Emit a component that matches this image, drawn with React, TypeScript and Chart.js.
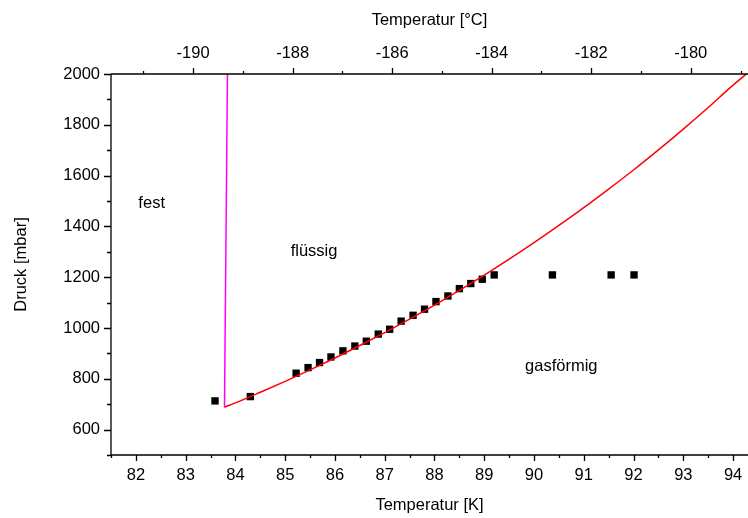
import { useEffect, useRef } from 'react';
import { Chart, registerables } from 'chart.js';

Chart.register(...registerables);

// Measured points (Temperatur [K], Druck [mbar])
const measuredT = [83.59, 84.30, 85.22, 85.46, 85.69, 85.92, 86.16, 86.40, 86.63, 86.87, 87.10, 87.33, 87.57, 87.80, 88.03, 88.27, 88.50, 88.73, 88.96, 89.20, 90.37, 91.55, 92.01];
const measuredP = [713, 730, 822, 844, 864, 886, 910, 929, 948, 976, 995, 1027, 1050, 1074, 1104, 1126, 1155, 1175, 1192, 1209, 1209, 1209, 1209];

// Vapour pressure curve (red)
const curveT = [83.78, 84.0, 84.5, 85.0, 85.5, 86.0, 86.5, 87.0, 87.5, 88.0, 88.5, 89.0, 89.5, 90.0, 90.5, 91.0, 91.5, 92.0, 92.5, 93.0, 93.5, 94.0, 94.27];
const curveP = [688, 705, 747, 790, 835, 882, 931, 982, 1035, 1090, 1148, 1208, 1271, 1336, 1404, 1474, 1547, 1622, 1701, 1783, 1868, 1956, 2000];

// Melting curve (magenta)
const meltT = [83.78, 83.84];
const meltP = [688, 2000];

// Region labels
const regionText = ['fest', 'flüssig', 'gasförmig'];
const regionT = [82.05, 85.11, 89.82];
const regionP = [1490, 1301, 847];

const K_MIN = 81.5;
const K_MAX = 94.3;
const P_MIN = 500;
const P_MAX = 2000;
const C_OFFSET = 273.15;

const FONT_FAMILY = '"Liberation Sans", Arial, sans-serif';
const FONT_SIZE = 16.5;

const axesPlugin = {
  id: 'originAxes',
  afterDraw(chart: any) {
    const { ctx, chartArea: a, scales } = chart;
    const x = scales.x;
    const y = scales.y;
    const x2 = scales.x2;
    ctx.save();
    ctx.strokeStyle = '#000';
    ctx.lineWidth = 1.3;
    ctx.beginPath();
    ctx.moveTo(a.left, a.bottom);
    ctx.lineTo(a.right, a.bottom);
    ctx.moveTo(a.left, a.top);
    ctx.lineTo(a.right, a.top);
    ctx.moveTo(a.left, a.top);
    ctx.lineTo(a.left, a.bottom);
    // bottom ticks
    for (let i = 0; ; i++) {
      const v = K_MIN + i * 0.5;
      if (v > K_MAX + 1e-9) break;
      const major = Math.abs(v - Math.round(v)) < 1e-6;
      const px = Math.round(x.getPixelForValue(v)) + 0.5;
      ctx.moveTo(px, a.bottom);
      ctx.lineTo(px, a.bottom + (major ? 6 : 3));
    }
    // left ticks
    for (let v = P_MIN; v <= P_MAX; v += 100) {
      const major = v % 200 === 0;
      const py = Math.round(y.getPixelForValue(v)) + 0.5;
      ctx.moveTo(a.left, py);
      ctx.lineTo(a.left - (major ? 7 : 4), py);
    }
    // top ticks
    const cMin = K_MIN - C_OFFSET;
    const cMax = K_MAX - C_OFFSET;
    for (let v = Math.ceil(cMin); v <= cMax; v += 1) {
      const major = Math.abs(v) % 2 === 0;
      const px = Math.round(x2.getPixelForValue(v)) + 0.5;
      ctx.moveTo(px, a.top);
      ctx.lineTo(px, a.top - (major ? 6 : 3));
    }
    ctx.stroke();

    // region labels
    ctx.fillStyle = '#000';
    ctx.font = `${FONT_SIZE}px ${FONT_FAMILY}`;
    ctx.textAlign = 'left';
    ctx.textBaseline = 'middle';
    regionText.forEach((t, i) => {
      ctx.fillText(t, x.getPixelForValue(regionT[i]), y.getPixelForValue(regionP[i]));
    });
    ctx.restore();
  },
};

export default function App() {
  const ref = useRef<HTMLCanvasElement | null>(null);

  useEffect(() => {
    if (!ref.current) return;
    const font = { family: FONT_FAMILY, size: FONT_SIZE };
    const chart = new Chart(ref.current, {
      type: 'scatter',
      data: {
        datasets: [
          {
            label: 'Dampfdruckkurve',
            data: curveT.map((t, i) => ({ x: t, y: curveP[i] })),
            showLine: true,
            borderColor: '#ff0000',
            borderWidth: 1.5,
            pointRadius: 0,
            cubicInterpolationMode: 'monotone',
            xAxisID: 'x',
            yAxisID: 'y',
          },
          {
            label: 'Schmelzkurve',
            data: meltT.map((t, i) => ({ x: t, y: meltP[i] })),
            showLine: true,
            borderColor: '#ff00ff',
            borderWidth: 1.5,
            pointRadius: 0,
            xAxisID: 'x',
            yAxisID: 'y',
          },
          {
            label: 'Messwerte',
            data: measuredT.map((t, i) => ({ x: t, y: measuredP[i] })),
            showLine: false,
            pointStyle: 'rect',
            pointRadius: 5.2,
            pointBorderWidth: 0,
            backgroundColor: '#000',
            borderColor: '#000',
            xAxisID: 'x',
            yAxisID: 'y',
          },
        ],
      } as any,
      options: {
        animation: false,
        responsive: false,
        maintainAspectRatio: false,
        layout: { padding: 0, autoPadding: false },
        plugins: {
          legend: { display: false },
          tooltip: { enabled: false },
        },
        scales: {
          x: {
            type: 'linear',
            position: 'bottom',
            min: K_MIN,
            max: K_MAX,
            grid: { display: false, drawTicks: false },
            border: { display: false },
            ticks: {
              stepSize: 1,
              includeBounds: false,
              color: '#000',
              font,
              padding: 11,
              maxRotation: 0,
              autoSkip: false,
              callback: (v: any) => String(v),
            },
            title: {
              display: true,
              text: 'Temperatur [K]',
              color: '#000',
              font,
              padding: { top: 0, bottom: 3 },
            },
            afterFit: (s: any) => {
              s.height = 63;
              s.paddingLeft = 0;
              s.paddingRight = 0;
            },
          },
          x2: {
            type: 'linear',
            position: 'top',
            min: K_MIN - C_OFFSET,
            max: K_MAX - C_OFFSET,
            grid: { display: false, drawTicks: false },
            border: { display: false },
            ticks: {
              stepSize: 2,
              includeBounds: false,
              color: '#000',
              font,
              padding: 11,
              maxRotation: 0,
              autoSkip: false,
              callback: (v: any) => String(v),
            },
            title: {
              display: true,
              text: 'Temperatur [°C]',
              color: '#000',
              font,
              padding: { top: 11, bottom: 0 },
            },
            afterFit: (s: any) => {
              s.height = 74;
              s.paddingLeft = 0;
              s.paddingRight = 0;
            },
          },
          y: {
            type: 'linear',
            position: 'left',
            min: P_MIN,
            max: P_MAX,
            grid: { display: false, drawTicks: false },
            border: { display: false },
            ticks: {
              stepSize: 200,
              includeBounds: false,
              color: '#000',
              font,
              padding: 11,
              autoSkip: false,
              callback: (v: any) => String(v),
            },
            title: {
              display: true,
              text: 'Druck [mbar]',
              color: '#000',
              font,
              padding: { top: 12, bottom: 0 },
            },
            afterFit: (s: any) => {
              s.width = 111;
              s.paddingTop = 0;
              s.paddingBottom = 0;
            },
          },
        },
      } as any,
      plugins: [axesPlugin],
    });
    return () => chart.destroy();
  }, []);

  return (
    <canvas
      ref={ref}
      width={748}
      height={518}
      style={{ position: 'absolute', left: 0, top: 0, display: 'block', width: 748, height: 518 }}
    />
  );
}
